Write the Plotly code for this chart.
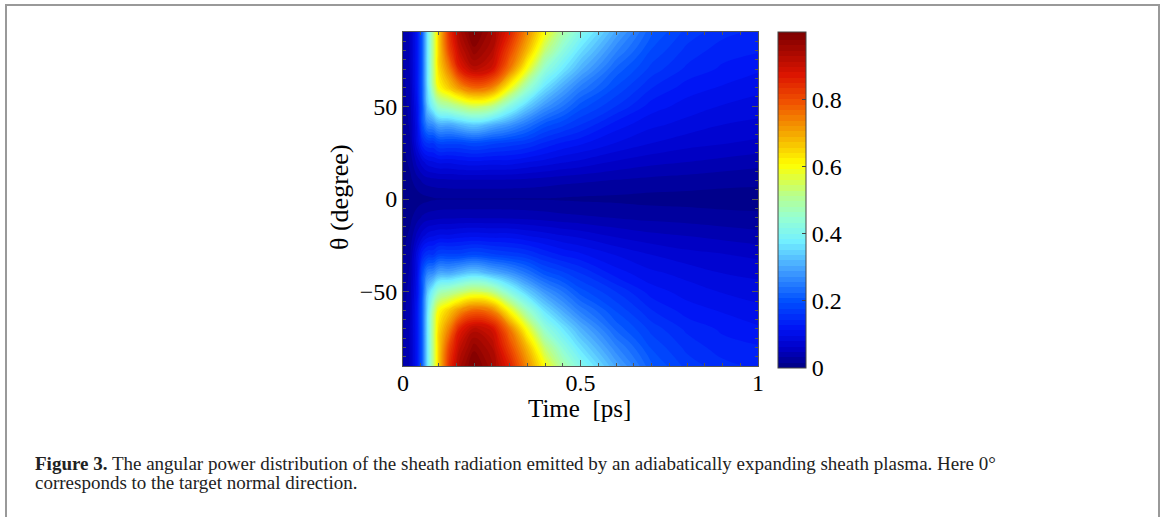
import plotly.graph_objects as go

# ---- data ----
time_ps = [0, 0.02, 0.04, 0.055, 0.07, 0.085, 0.1, 0.13, 0.16, 0.2, 0.25,
           0.3, 0.35, 0.4, 0.45, 0.5, 0.6, 0.7, 0.8, 0.9, 1.0]
theta_upper = [0, 10, 20, 30, 40, 50, 60, 70, 80, 90]

# normalised power, one list per angle (theta >= 0), values along time_ps;
# the distribution is symmetric in theta
p_theta_0  = [0.004, 0.006, 0.008, 0.010, 0.012, 0.014, 0.015, 0.015, 0.015, 0.015, 0.015,
              0.015, 0.015, 0.015, 0.014, 0.013, 0.012, 0.010, 0.009, 0.008, 0.008]
p_theta_10 = [0.007, 0.012, 0.025, 0.035, 0.040, 0.042, 0.044, 0.045, 0.046, 0.046, 0.046,
              0.045, 0.043, 0.040, 0.037, 0.035, 0.031, 0.027, 0.025, 0.022, 0.020]
p_theta_20 = [0.010, 0.020, 0.055, 0.075, 0.090, 0.095, 0.100, 0.100, 0.105, 0.108, 0.105,
              0.105, 0.097, 0.090, 0.082, 0.076, 0.062, 0.053, 0.048, 0.043, 0.038]
p_theta_30 = [0.015, 0.030, 0.090, 0.140, 0.160, 0.160, 0.180, 0.180, 0.180, 0.190, 0.180,
              0.170, 0.160, 0.140, 0.125, 0.115, 0.095, 0.080, 0.070, 0.065, 0.060]
p_theta_40 = [0.020, 0.035, 0.100, 0.200, 0.260, 0.270, 0.300, 0.300, 0.320, 0.340, 0.310,
              0.280, 0.240, 0.200, 0.180, 0.160, 0.120, 0.100, 0.090, 0.080, 0.075]
p_theta_50 = [0.022, 0.040, 0.110, 0.210, 0.340, 0.400, 0.460, 0.490, 0.520, 0.550, 0.520,
              0.420, 0.340, 0.280, 0.240, 0.200, 0.160, 0.120, 0.105, 0.095, 0.090]
p_theta_60 = [0.025, 0.045, 0.120, 0.220, 0.370, 0.500, 0.600, 0.660, 0.720, 0.770, 0.740,
              0.600, 0.460, 0.360, 0.300, 0.250, 0.190, 0.145, 0.120, 0.110, 0.100]
p_theta_70 = [0.028, 0.050, 0.120, 0.220, 0.380, 0.520, 0.640, 0.740, 0.860, 0.920, 0.890,
              0.750, 0.590, 0.440, 0.370, 0.310, 0.220, 0.170, 0.140, 0.125, 0.115]
p_theta_80 = [0.030, 0.050, 0.120, 0.220, 0.380, 0.520, 0.650, 0.810, 0.910, 0.970, 0.930,
              0.810, 0.680, 0.530, 0.430, 0.360, 0.260, 0.190, 0.155, 0.135, 0.130]
p_theta_90 = [0.030, 0.050, 0.120, 0.220, 0.380, 0.520, 0.650, 0.840, 0.940, 1.000, 0.950,
              0.860, 0.730, 0.600, 0.490, 0.410, 0.300, 0.210, 0.170, 0.150, 0.140]

upper_rows = [p_theta_0, p_theta_10, p_theta_20, p_theta_30, p_theta_40,
              p_theta_50, p_theta_60, p_theta_70, p_theta_80, p_theta_90]

# full angular grid -90..90 built by mirroring
theta_deg = [-t for t in reversed(theta_upper[1:])] + theta_upper
z_rows = list(reversed(upper_rows[1:])) + upper_rows

x_ticks = [0, 0.5, 1]
x_tick_text = ["0", "0.5", "1"]
y_ticks = [-50, 0, 50]
cbar_ticks = [0, 0.2, 0.4, 0.6, 0.8]
cbar_text = ["0", "0.2", "0.4", "0.6", "0.8"]

# jet-like colour map as it appears in the reference colour bar
jet = [
    [0.00, "rgb(0,0,130)"],
    [0.06, "rgb(0,0,200)"],
    [0.12, "rgb(0,20,245)"],
    [0.20, "rgb(0,80,255)"],
    [0.30, "rgb(70,165,255)"],
    [0.38, "rgb(115,240,255)"],
    [0.45, "rgb(150,255,210)"],
    [0.52, "rgb(185,255,140)"],
    [0.61, "rgb(255,255,0)"],
    [0.70, "rgb(245,170,0)"],
    [0.80, "rgb(240,80,0)"],
    [0.88, "rgb(220,20,0)"],
    [1.00, "rgb(128,0,0)"],
]

# ---- layout geometry (pixels) ----
W, H = 1166, 517
L, R, T, B = 403, 758, 32, 366
PW, PH = R - L, B - T

def px_x(px):
    return (px - L) / PW

def px_y(py):
    return (B - py) / PH

serif = "Liberation Serif"

fig = go.Figure()
fig.add_trace(go.Contour(
    x=time_ps, y=theta_deg, z=z_rows,
    colorscale=jet, zmin=0, zmax=1,
    autocontour=False,
    contours=dict(start=0, end=1.0, size=0.016, coloring="fill", showlines=False),
    line=dict(width=0, smoothing=1.3),
    colorbar=dict(
        x=px_x(778), xanchor="left", xref="paper",
        y=px_y(200), yanchor="middle",
        thickness=28, thicknessmode="pixels",
        len=336, lenmode="pixels",
        outlinecolor="#444", outlinewidth=1,
        tickvals=cbar_ticks, ticktext=cbar_text,
        ticks="inside", ticklen=4, tickcolor="#444",
        tickfont=dict(family=serif, size=24, color="black"),
        xpad=0, ypad=0,
    ),
    showscale=True,
))

axis_common = dict(
    showline=True, linecolor="#555", linewidth=1, mirror="ticks",
    ticks="inside", ticklen=6, tickcolor="#555",
    showgrid=False, zeroline=False,
    tickfont=dict(family=serif, size=24, color="black"),
)

fig.update_xaxes(range=[0, 1], tickvals=x_ticks, ticktext=x_tick_text,
                 ticklabelstandoff=-5,
                 minor=dict(dtick=0.05, ticks="inside", ticklen=3, tickcolor="#555", showgrid=False),
                 **axis_common)
fig.update_yaxes(range=[-90, 90], tickvals=y_ticks,
                 minor=dict(dtick=5, ticks="inside", ticklen=3, tickcolor="#555", showgrid=False),
                 **axis_common)

annotations = [
    dict(text="Time\u00a0\u00a0[ps]", x=px_x(579), y=px_y(408), xref="paper", yref="paper",
         showarrow=False, xanchor="center", yanchor="middle",
         font=dict(family=serif, size=25, color="black")),
    dict(text="θ (degree)", x=px_x(340), y=px_y(197), xref="paper", yref="paper",
         showarrow=False, xanchor="center", yanchor="middle", textangle=-90,
         font=dict(family=serif, size=26, color="black")),
    dict(text="<b>Figure 3.</b> The angular power distribution of the sheath radiation emitted by an adiabatically expanding sheath plasma. Here 0°",
         x=px_x(33), y=px_y(463), xref="paper", yref="paper",
         showarrow=False, xanchor="left", yanchor="middle",
         font=dict(family=serif, size=19, color="#222")),
    dict(text="corresponds to the target normal direction.",
         x=px_x(33), y=px_y(482), xref="paper", yref="paper",
         showarrow=False, xanchor="left", yanchor="middle",
         font=dict(family=serif, size=19, color="#222")),
]

shapes = [
    dict(type="rect", xref="paper", yref="paper",
         x0=px_x(6), x1=px_x(1159), y0=px_y(530), y1=px_y(5),
         line=dict(color="#999", width=2), fillcolor="rgba(0,0,0,0)", layer="below"),
]

fig.update_layout(
    width=W, height=H,
    margin=dict(l=L, r=W - R, t=T, b=H - B, autoexpand=False),
    paper_bgcolor="white", plot_bgcolor="white",
    annotations=annotations, shapes=shapes,
    showlegend=False,
)

fig.write_html("out.html")
